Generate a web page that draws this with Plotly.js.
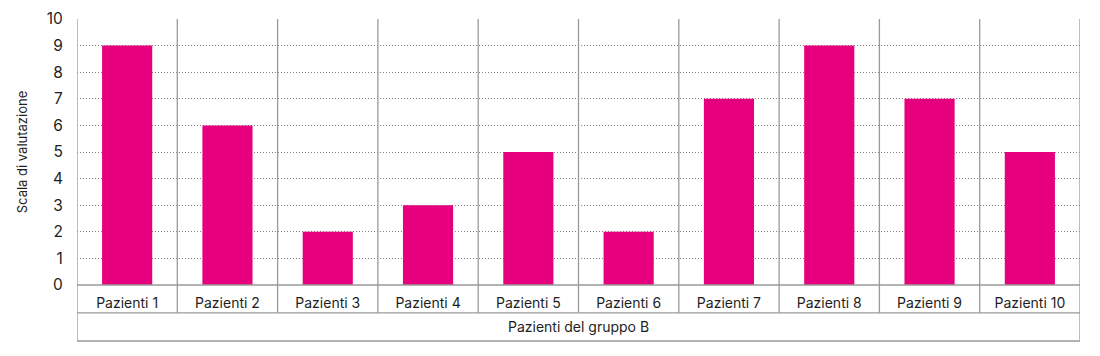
<!DOCTYPE html>
<html>
<head>
<meta charset="utf-8">
<script src="https://cdn.plot.ly/plotly-3.0.1.min.js"></script>
<style>html,body{margin:0;padding:0;background:#fff;}#chart{width:1100px;height:356px;}</style>
</head>
<body>
<div id="chart"></div>
<script>
const categories = ["Pazienti 1","Pazienti 2","Pazienti 3","Pazienti 4","Pazienti 5","Pazienti 6","Pazienti 7","Pazienti 8","Pazienti 9","Pazienti 10"];
const values = [9, 6, 2, 3, 5, 2, 7, 9, 7, 5];
const yTicks = [0,1,2,3,4,5,6,7,8,9,10];
const yTitle = "Scala di valutazione";
const groupLabel = "Pazienti del gruppo B";

const idx = categories.map((c, i) => i);
const lineColor = "#9a9a9a";
const rowBottom = -0.105;
const groupBottom = -0.2105;

const shapes = [];
for (let i = 0; i < categories.length - 1; i++) {
  shapes.push({type:'line', xref:'x', yref:'paper', x0:i+0.5, x1:i+0.5, y0:rowBottom, y1:1, line:{color:lineColor, width:1.3}});
}
shapes.push({type:'line', xref:'x', yref:'paper', x0:-0.5, x1:-0.5, y0:groupBottom, y1:1, line:{color:lineColor, width:1.3}});
shapes.push({type:'line', xref:'x', yref:'paper', x0:categories.length-0.5, x1:categories.length-0.5, y0:groupBottom, y1:1, line:{color:lineColor, width:1.3}});
[0, rowBottom, groupBottom].forEach(y => {
  shapes.push({type:'line', xref:'paper', yref:'paper', x0:0, x1:1, y0:y, y1:y, line:{color:lineColor, width:1.3}});
});

const trace = {
  type:'bar', x: idx, y: values, width: 0.5,
  marker:{color:'#e6007e'}, hoverinfo:'none'
};

const font = {family:'Inter, "Liberation Sans", sans-serif', color:'#1e1e1e'};

const layout = {
  width:1100, height:356,
  margin:{l:77, r:20, t:19, b:71, pad:0},
  paper_bgcolor:'#fff', plot_bgcolor:'#fff',
  showlegend:false,
  font: font,
  xaxis:{
    range:[-0.5, categories.length-0.5], tickvals: idx, ticktext: categories,
    showgrid:false, zeroline:false, showline:false,
    ticks:'outside', ticklen:5, tickcolor:'rgba(0,0,0,0)',
    tickfont:{size:14, family:font.family, color:'#1e1e1e'},
    fixedrange:true, automargin:false
  },
  yaxis:{
    range:[0,10], tickvals: yTicks,
    showgrid:true, gridcolor:'#808080', griddash:'1px,2px', gridwidth:1,
    zeroline:false, showline:false,
    ticks:'outside', ticklen:10, tickcolor:'rgba(0,0,0,0)',
    tickfont:{size:15.5, family:font.family, color:'#1e1e1e'},
    title:{text:yTitle, font:{size:13, family:font.family, color:'#1e1e1e'}, standoff:16},
    fixedrange:true, automargin:false
  },
  shapes: shapes,
  annotations:[{
    text: groupLabel, xref:'paper', yref:'paper', x:0.5, y:(rowBottom+groupBottom)/2,
    xanchor:'center', yanchor:'middle', showarrow:false,
    font:{size:14, family:font.family, color:'#1e1e1e'}
  }]
};

Plotly.newPlot('chart', [trace], layout, {displayModeBar:false, staticPlot:true});
</script>
</body>
</html>
